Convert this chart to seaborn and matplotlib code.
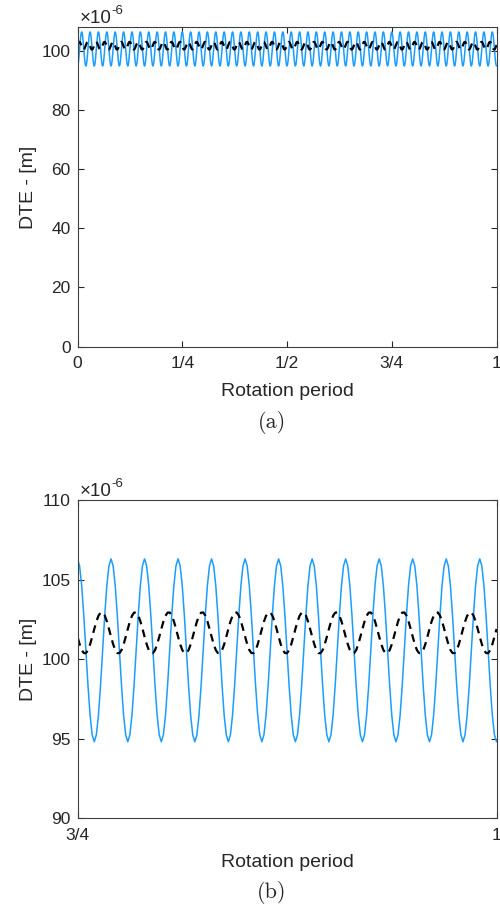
import numpy as np
import pandas as pd
import matplotlib
matplotlib.use("Agg")
import matplotlib.pyplot as plt
import seaborn as sns

# ---- data (one mesh period; signal is periodic) ----
n_teeth = 50  # mesh periods per rotation
blue_period = [94.80, 95.24, 96.48, 98.35, 100.55, 102.75, 104.62, 105.86,
               106.30, 105.86, 104.62, 102.75, 100.55, 98.35, 96.48, 95.24]
black_period = [101.89, 102.36, 102.72, 102.92, 102.93, 102.74, 102.38, 101.91,
                101.41, 100.94, 100.57, 100.38, 100.37, 100.56, 100.92, 101.39]
x_ticks = [0, 0.25, 0.5, 0.75, 1]
x_ticklabels = ["0", "1/4", "1/2", "3/4", "1"]
y_ticks_a = [0, 20, 40, 60, 80, 100]
y_ticks_b = [90, 95, 100, 105, 110]

spp = len(blue_period)
npts = n_teeth * spp + 1
x = np.linspace(0, 1, npts)
blue = np.append(np.tile(blue_period, n_teeth), blue_period[0])
black = np.append(np.tile(black_period, n_teeth), black_period[0])
df = pd.DataFrame({"x": x, "blue": blue, "black": black})

sns.set_theme(style="ticks")
plt.rcParams["font.family"] = ["Liberation Sans", "DejaVu Sans"]
plt.rcParams["axes.edgecolor"] = "#262626"
plt.rcParams["xtick.color"] = "#262626"
plt.rcParams["ytick.color"] = "#262626"
plt.rcParams["axes.linewidth"] = 0.8

fig = plt.figure(figsize=(5, 9.1), dpi=100)
ax1 = fig.add_axes([0.155, 0.619, 0.838, 0.3508])
ax2 = fig.add_axes([0.155, 0.101, 0.838, 0.3495])

BLUE = "#1a9dff"
tick_fs = 12.5
label_fs = 14

def style(ax, yticks, ylim, xticks, xlabels, xlim):
    sns.lineplot(data=df, x="x", y="blue", ax=ax, color=BLUE, lw=1.1)
    sns.lineplot(data=df, x="x", y="black", ax=ax, color="black", lw=1.6,
                 linestyle=(0, (3.5, 2.5)))
    ax.set_xlim(*xlim)
    ax.set_ylim(*ylim)
    ax.set_xticks(xticks)
    ax.set_xticklabels(xlabels)
    ax.set_yticks(yticks)
    ax.set_yticklabels([str(v) for v in yticks])
    ax.tick_params(direction="in", length=4, width=0.8, labelsize=tick_fs,
                   top=True, right=True, labelcolor="#262626")
    ax.tick_params(axis="x", pad=7)
    ax.tick_params(axis="y", pad=5)
    ax.set_xlabel("Rotation period", fontsize=label_fs, color="#262626", labelpad=8)
    ax.set_ylabel("DTE - [m]", fontsize=label_fs, color="#262626")
    ax.yaxis.set_label_coords(-0.0965, 0.5)
    for s in ax.spines.values():
        s.set_visible(True)
        s.set_color("#404040")
    ax.annotate("\u00d710", xy=(0, 1), xycoords="axes fraction",
                xytext=(1.5, 3.2), textcoords="offset points",
                fontsize=13.5, color="#262626", ha="left", va="baseline")
    ax.annotate("-6", xy=(0, 1), xycoords="axes fraction",
                xytext=(24.5, 9.5), textcoords="offset points",
                fontsize=9.5, color="#262626", ha="left", va="baseline")

style(ax1, y_ticks_a, (0, 107.8), x_ticks, x_ticklabels, (0, 1))
style(ax2, y_ticks_b, (90, 110), [0.75, 1], ["3/4", "1"], (0.75, 1))

fig.text(0.544, 1 - 423 / 910, "(a)", fontsize=16, family=["cmr10", "DejaVu Serif"],
         ha="center", va="center")
fig.text(0.544, 1 - 892 / 910, "(b)", fontsize=16, family=["cmr10", "DejaVu Serif"],
         ha="center", va="center")

fig.savefig("out.png", dpi=100)
